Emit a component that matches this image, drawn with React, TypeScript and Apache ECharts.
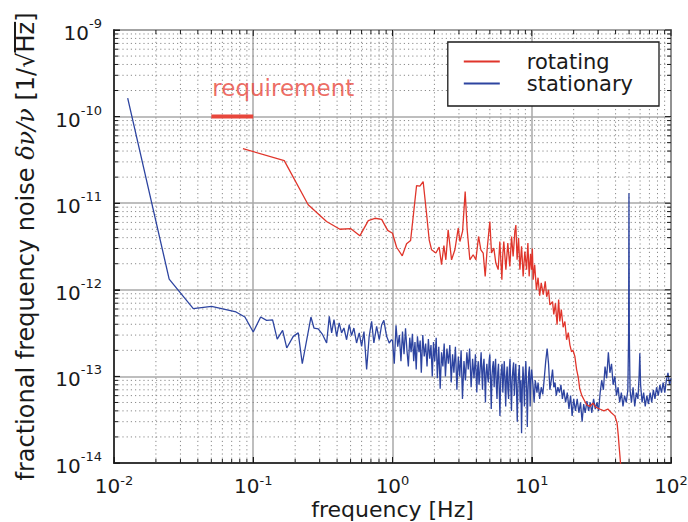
import { useEffect, useRef } from 'react';
import * as echarts from 'echarts';

const FONT = 'DejaVu Sans';
const INK = '#1a1a1a';
const RED = '#e0352b';
const BLUE = '#2d44a0';

const X_MIN = 0.01;
const X_MAX = 100;
const Y_MIN = 1e-14;
const Y_MAX = 1e-9;
const xDecades = [0.01, 0.1, 1, 10, 100];
const yDecades = [1e-14, 1e-13, 1e-12, 1e-11, 1e-10, 1e-9];
const minorMultipliers = [2, 3, 4, 5, 6, 7, 8, 9];

const legendNames = ['rotating', 'stationary'];
const requirementText = 'requirement';

// requirement bar: frequency [Hz], noise
const requirement: [number, number][] = [[0.05, 1e-10], [0.1, 1e-10]];

// stationary (blue): [frequency Hz, fractional noise 1/sqrt(Hz)]
const stationary: [number, number][] = [
  [0.01254, 1.63e-10], [0.0249, 1.33e-12], [0.0371, 6.05e-13], [0.0502, 6.44e-13],
  [0.0752, 5.55e-13], [0.0871, 4.85e-13], [0.1, 3.26e-13],
  [0.113, 4.85e-13], [0.1247, 4.44e-13], [0.1377, 4.5e-13], [0.1486, 2.7e-13], [0.1625, 3.4e-13],
  [0.174, 2.13e-13], [0.1938, 2.9e-13], [0.2104, 3.18e-13], [0.225, 1.4e-13], [0.2596, 4.85e-13],
  [0.273, 3.62e-13], [0.293, 3.53e-13], [0.315, 3.03e-13], [0.3365, 2.43e-13], [0.3516, 4.93e-13],
  [0.3656, 3.18e-13], [0.38, 4.52e-13], [0.397, 2.9e-13], [0.414, 4.14e-13], [0.431, 3.18e-13],
  [0.448, 3.62e-13], [0.468, 2.65e-13], [0.489, 3.95e-13], [0.508, 2.96e-13], [0.528, 3.62e-13],
  [0.552, 2.43e-13], [0.577, 3.18e-13], [0.6, 2.22e-13], [0.624, 3.3e-13], [0.652, 1.2e-13],
  [0.68, 2.9e-13], [0.708, 4.32e-13], [0.735, 2.43e-13], [0.769, 3.79e-13], [0.803, 2.65e-13],
  [0.836, 3.95e-13], [0.867, 4.44e-13], [0.907, 2.9e-13], [0.947, 2.43e-13], [0.984, 2.65e-13],
  [1.0, 2.6e-13], [1.03, 1.4e-13], [1.06, 3.9e-13], [1.09, 2.2e-13], [1.12, 3.0e-13], [1.15, 1.5e-13],
  [1.18, 3.3e-13], [1.21, 1.8e-13], [1.24, 3.6e-13], [1.27, 2.0e-13], [1.3, 1.3e-13], [1.33, 2.8e-13],
  [1.36, 1.9e-13], [1.39, 3.1e-13], [1.42, 1.5e-13], [1.45, 2.5e-13], [1.48, 1.2e-13], [1.51, 2.9e-13],
  [1.55, 1.9e-13], [1.58, 2.6e-13], [1.61, 1.1e-13], [1.65, 3.0e-13], [1.69, 1.7e-13], [1.73, 2.4e-13],
  [1.77, 1.3e-13], [1.81, 2.7e-13], [1.85, 1.6e-13], [1.89, 2.3e-13], [1.93, 1.0e-13], [1.97, 2.5e-13],
  [2.01, 1.5e-13], [2.06, 2.8e-13], [2.1, 9.5e-14], [2.15, 2.2e-13], [2.2, 7.2e-14], [2.25, 1.9e-13],
  [2.3, 1.3e-13], [2.35, 2.4e-13], [2.4, 1.0e-13], [2.46, 2.1e-13], [2.52, 1.4e-13], [2.58, 2.3e-13],
  [2.64, 8.5e-14], [2.7, 1.8e-13], [2.76, 1.1e-13], [2.83, 2.2e-13], [2.9, 7.0e-14], [2.97, 1.7e-13],
  [3.04, 1.0e-13], [3.11, 2.0e-13], [3.18, 5.5e-14], [3.26, 1.5e-13], [3.34, 9.0e-14], [3.42, 1.9e-13],
  [3.5, 1.2e-13], [3.58, 2.1e-13], [3.67, 7.5e-14], [3.76, 1.6e-13], [3.85, 9.5e-14], [3.94, 1.8e-13],
  [4.03, 6.5e-14], [4.08, 1.2e-13], [4.13, 1.5e-13], [4.18, 8e-14], [4.23, 1.0e-13], [4.28, 1.4e-13],
  [4.33, 1.9e-13], [4.38, 1.1e-13], [4.43, 7.0e-14], [4.48, 1.3e-13], [4.54, 1.6e-13], [4.6, 9e-14],
  [4.65, 5.0e-14], [4.7, 1.1e-13], [4.76, 1.4e-13], [4.82, 1.0e-13], [4.88, 8.5e-14], [4.94, 1.5e-13],
  [5.0, 1.8e-13], [5.06, 9e-14], [5.12, 4.2e-14], [5.18, 1.0e-13], [5.24, 1.3e-13], [5.3, 1.5e-13],
  [5.37, 7.5e-14], [5.43, 1.2e-13], [5.5, 1.6e-13], [5.56, 8e-14], [5.63, 5.5e-14], [5.7, 1.1e-13],
  [5.77, 1.4e-13], [5.84, 7e-14], [5.91, 3.5e-14], [5.98, 9e-14], [6.05, 1.2e-13], [6.12, 1.4e-13],
  [6.2, 6.5e-14], [6.27, 1.0e-13], [6.35, 1.5e-13], [6.42, 9e-14], [6.5, 4.5e-14], [6.58, 1.0e-13],
  [6.66, 1.3e-13], [6.74, 7e-14], [6.82, 5.5e-14], [6.9, 1.2e-13], [6.98, 1.6e-13], [7.06, 8e-14],
  [7.15, 4.0e-14], [7.23, 9e-14], [7.32, 1.2e-13], [7.41, 1.45e-13], [7.5, 6.0e-14], [7.59, 1.0e-13],
  [7.68, 1.4e-13], [7.77, 7e-14], [7.87, 3.0e-14], [7.96, 8e-14], [8.06, 1.1e-13], [8.15, 1.35e-13],
  [8.25, 5.0e-14], [8.35, 9e-14], [8.45, 2.2e-14], [8.55, 7e-14], [8.65, 1.3e-13], [8.75, 9e-14],
  [8.86, 4.5e-14], [8.96, 1.0e-13], [9.07, 1.5e-13], [9.18, 8e-14], [9.29, 2.6e-14], [9.4, 7e-14],
  [9.51, 1.1e-13], [9.62, 1.3e-13], [9.74, 4.5e-14], [9.85, 9e-14], [9.97, 1.2e-13],
  [10.2, 8.0e-14], [10.4, 5.0e-14], [10.6, 9.0e-14], [10.9, 6.5e-14], [11.1, 8.5e-14], [11.4, 5.5e-14],
  [11.7, 7.5e-14], [12.0, 6.2e-14], [12.3, 9.5e-14], [12.6, 1.5e-13], [12.9, 2.1e-13], [13.2, 1.4e-13],
  [13.5, 7.0e-14], [13.8, 9.0e-14], [14.1, 1.2e-13], [14.4, 7.5e-14], [14.7, 8.5e-14], [15.0, 6.0e-14],
  [15.4, 7.5e-14], [15.8, 6.5e-14], [16.2, 8.0e-14], [16.6, 5.5e-14], [17.0, 7.0e-14], [17.5, 5.0e-14],
  [18.0, 6.5e-14], [18.5, 4.2e-14], [19.0, 6.0e-14], [19.5, 3.5e-14], [20.0, 5.5e-14], [20.6, 4.0e-14],
  [21.2, 5.5e-14], [21.8, 3.8e-14], [22.4, 5.0e-14], [23.0, 3.0e-14], [23.6, 4.8e-14], [24.2, 3.8e-14],
  [24.9, 5.2e-14], [25.6, 4.0e-14], [26.3, 5.0e-14], [27.0, 3.8e-14], [27.8, 5.5e-14], [28.6, 4.2e-14],
  [29.4, 5.0e-14], [30.2, 4.0e-14], [31.0, 6.5e-14], [31.8, 9.0e-14], [32.7, 7.0e-14], [33.6, 1.3e-13],
  [34.5, 9.5e-14], [35.5, 1.9e-13], [36.4, 1.1e-13], [37.4, 1.4e-13], [38.4, 8.0e-14], [39.5, 1.0e-13],
  [40.6, 6.0e-14], [41.7, 7.5e-14], [42.8, 5.0e-14], [44.0, 6.5e-14], [45.2, 4.5e-14], [46.4, 6.0e-14],
  [47.7, 5.0e-14], [49.0, 7.0e-14], [49.6, 3.0e-13], [49.9, 1.3e-11], [50.2, 3.0e-13], [50.8, 7.0e-14],
  [52.0, 5.0e-14], [53.4, 7.5e-14], [54.9, 4.5e-14], [56.4, 6.5e-14], [57.9, 5.5e-14], [59.0, 1.0e-13],
  [59.7, 1.85e-13], [60.5, 8.0e-14], [62.0, 5.0e-14], [63.6, 6.5e-14], [65.3, 4.5e-14], [67.1, 6.0e-14],
  [68.9, 4.8e-14], [70.8, 6.5e-14], [72.7, 5.0e-14], [74.7, 7.0e-14], [76.7, 5.5e-14], [78.8, 7.5e-14],
  [81.0, 6.0e-14], [83.2, 8.0e-14], [85.5, 6.5e-14], [87.8, 8.5e-14], [90.2, 6.5e-14], [92.6, 9.0e-14],
  [95.1, 1.1e-13], [97.7, 8.0e-14], [100, 9.5e-14],
];

// rotating (red): [frequency Hz, fractional noise 1/sqrt(Hz)]
const rotating: [number, number][] = [
  [0.0843, 4.27e-11], [0.167, 3.1e-11], [0.248, 9.6e-12], [0.336, 6.15e-12], [0.419, 5.0e-12],
  [0.5, 5.1e-12], [0.583, 4.2e-12], [0.67, 6.3e-12], [0.748, 6.7e-12], [0.836, 6.5e-12],
  [0.923, 4.85e-12], [1.0, 4.5e-12], [1.07, 3.1e-12], [1.175, 2.47e-12], [1.262, 3.4e-12],
  [1.349, 3.72e-12], [1.489, 1.6e-11], [1.573, 1.57e-11], [1.66, 1.78e-11], [1.757, 7.5e-12],
  [1.834, 3.78e-12], [1.908, 2.9e-12], [2.05, 2.66e-12], [2.163, 3.12e-12], [2.25, 1.95e-12],
  [2.339, 3.23e-12], [2.416, 2.22e-12], [2.51, 4.93e-12], [2.655, 2.22e-12], [2.806, 2.9e-12],
  [2.965, 5.16e-12], [3.048, 3.61e-12], [3.185, 4.72e-12], [3.326, 1.36e-11], [3.437, 4.93e-12],
  [3.594, 2.22e-12], [3.795, 2.54e-12], [3.97, 2.22e-12], [4.15, 4.13e-12], [4.31, 2.9e-12],
  [4.48, 2.66e-12], [4.63, 1.43e-12], [4.78, 2.9e-12], [5.0, 6.15e-12], [5.14, 2.66e-12],
  [5.34, 3.04e-12], [5.52, 2.04e-12], [5.74, 1.71e-12], [5.9, 3.61e-12], [6.1, 1.31e-12],
  [6.2, 2.6e-12], [6.3, 3.61e-12], [6.52, 1.71e-12], [6.73, 3.47e-12], [6.85, 2.5e-12],
  [6.96, 1.86e-12], [7.16, 4.13e-12], [7.35, 2.43e-12], [7.45, 3.3e-12], [7.56, 4.72e-12],
  [7.69, 5.6e-12], [7.85, 2.22e-12], [8.04, 3.96e-12], [8.13, 2.6e-12], [8.22, 1.71e-12],
  [8.45, 3.17e-12], [8.56, 2.2e-12], [8.67, 1.43e-12], [8.92, 2.77e-12], [9.18, 1.71e-12],
  [9.28, 2.5e-12], [9.38, 3.47e-12], [9.58, 1.43e-12], [9.8, 2.6e-12], [9.97, 1.71e-12],
  [10.1, 3.0e-12], [10.24, 1.31e-12], [10.5, 1.95e-12], [10.8, 1.0e-12], [11.1, 1.38e-12],
  [11.4, 8.55e-13], [11.7, 1.2e-12], [12.1, 8.8e-13], [12.5, 1.25e-12], [12.8, 8.3e-13],
  [13.2, 1.0e-12], [13.5, 6.7e-13], [14.1, 7.3e-13], [14.4, 5.2e-13], [14.8, 7.0e-13],
  [15.2, 3.95e-13], [15.6, 7.7e-13], [15.9, 4.3e-13], [16.3, 5.9e-13], [16.8, 3.7e-13],
  [17.3, 4.3e-13], [17.8, 2.65e-13], [18.3, 3.2e-13], [18.8, 2.3e-13], [19.3, 1.93e-13],
  [19.8, 2.0e-13], [20.4, 1.7e-13], [21.0, 1.2e-13], [21.6, 9.7e-14], [22.1, 7.2e-14],
  [22.9, 6.0e-14], [24.0, 5.2e-14], [24.8, 4.7e-14], [26.1, 4.5e-14], [27.5, 4.9e-14],
  [28.9, 4.4e-14], [30.8, 4.2e-14], [33.0, 4.0e-14], [35.2, 4.2e-14], [37.3, 3.8e-14],
  [39.5, 3.5e-14], [41.0, 2.9e-14], [41.8, 2.1e-14], [42.4, 1.56e-14], [43.4, 1.0e-14],
  [44.0, 7.3e-15],
];

const xMinor = xDecades.slice(0, -1).flatMap((d) => minorMultipliers.map((m) => m * d));
const yMinor = yDecades.slice(0, -1).flatMap((d) => minorMultipliers.map((m) => m * d));

const isDecade = (v: number) => Math.abs(Math.log10(v) - Math.round(Math.log10(v))) < 1e-6;

const powLabel = (v: number) => `{b|10}{e|${Math.round(Math.log10(v))}}`;

const yLabelRich = {
  b: { fontFamily: FONT, fontSize: 20, color: INK, lineHeight: 26, verticalAlign: 'bottom' },
  e: { fontFamily: FONT, fontSize: 13, color: INK, lineHeight: 14, verticalAlign: 'top' },
};

const xLabelRich = {
  b: { fontFamily: FONT, fontSize: 20, color: INK, lineHeight: 22, verticalAlign: 'bottom' },
  e: { fontFamily: FONT, fontSize: 13, color: INK, lineHeight: 12, verticalAlign: 'top' },
};

export default function App() {
  const ref = useRef<HTMLDivElement>(null);

  useEffect(() => {
    if (!ref.current) return;
    const chart = echarts.init(ref.current, null, { renderer: 'svg' });

    const overline = new echarts.graphic.LinearGradient(0, 0, 0, 1, [
      { offset: 0, color: INK },
      { offset: 0.07, color: INK },
      { offset: 0.07, color: 'rgba(0,0,0,0)' },
      { offset: 1, color: 'rgba(0,0,0,0)' },
    ]);

    const tickStyle = { stroke: INK, lineWidth: 1 };
    const dotStyle = { stroke: '#8a8a8a', lineWidth: 1, lineDash: [1.2, 3] };

    const option: any = {
      animation: false,
      backgroundColor: '#ffffff',
      grid: {
        left: 114, right: 17, top: 30, bottom: 59,
        show: true, borderColor: INK, borderWidth: 1.5,
        outerBoundsMode: 'none',
      },
      legend: {
        data: legendNames,
        orient: 'vertical',
        right: 29,
        top: 42,
        backgroundColor: '#ffffff',
        borderColor: INK,
        borderWidth: 1.3,
        padding: [9, 26, 12, 16],
        itemWidth: 36,
        itemHeight: 2,
        itemGap: 1,
        icon: 'rect',
        selectedMode: false,
        textStyle: { fontFamily: FONT, fontSize: 21, color: INK, lineHeight: 21, padding: [0, 0, 0, 22] },
      },
      xAxis: {
        type: 'log', logBase: 10, min: X_MIN, max: X_MAX,
        name: 'frequency [Hz]', nameLocation: 'middle', nameGap: 35, nameMoveOverlap: false,
        nameTextStyle: { fontFamily: FONT, fontSize: 22, color: INK },
        axisLine: { show: true, onZero: false, lineStyle: { color: INK, width: 1.5 } },
        axisTick: { show: true, inside: true, length: 6, lineStyle: { color: INK, width: 1 } },
        axisLabel: { formatter: powLabel, margin: 11, rich: xLabelRich },
        splitLine: { show: true, lineStyle: { color: '#a9a9a9', width: 1.5 } },
        minorTick: { show: false },
        minorSplitLine: { show: false },
      },
      yAxis: {
        type: 'log', logBase: 10, min: Y_MIN, max: Y_MAX,
        name: '{n|fractional frequency noise }{i|δν/ν}{n| [1/√}{o|Hz}{n|]}',
        nameLocation: 'middle', nameGap: 76, nameRotate: 90, nameMoveOverlap: false,
        nameTextStyle: {
          rich: {
            n: { fontFamily: FONT, fontSize: 24, color: INK },
            i: { fontFamily: 'DejaVu Serif', fontStyle: 'italic', fontSize: 24, color: INK },
            o: { fontFamily: FONT, fontSize: 24, color: INK, backgroundColor: overline },
          },
        },
        axisLine: { show: true, onZero: false, lineStyle: { color: INK, width: 1.5 } },
        axisTick: { show: true, inside: true, length: 6, lineStyle: { color: INK, width: 1 } },
        axisLabel: { formatter: powLabel, margin: 12, rich: yLabelRich },
        splitLine: { show: true, lineStyle: { color: '#a9a9a9', width: 1.5 } },
        minorTick: { show: false },
        minorSplitLine: { show: false },
      },
      series: [
        {
          name: 'minorGrid', type: 'custom', silent: true, z: 1,
          data: [...xMinor.map((v) => [v, Y_MIN, 0]), ...yMinor.map((v) => [X_MIN, v, 1])],
          renderItem: (_p: any, api: any) => {
            const x = api.value(0);
            const y = api.value(1);
            const horizontal = api.value(2) === 1;
            const a = horizontal ? api.coord([X_MIN, y]) : api.coord([x, Y_MIN]);
            const b = horizontal ? api.coord([X_MAX, y]) : api.coord([x, Y_MAX]);
            return { type: 'line', shape: { x1: a[0], y1: a[1], x2: b[0], y2: b[1] }, style: dotStyle };
          },
        },
        {
          name: 'stationary', type: 'line', data: stationary, symbol: 'none', z: 3,
          lineStyle: { color: BLUE, width: 1.3 }, itemStyle: { color: BLUE }, clip: true,
        },
        {
          name: 'rotating', type: 'line', data: rotating, symbol: 'none', z: 4,
          lineStyle: { color: RED, width: 1.3 }, itemStyle: { color: RED }, clip: true,
        },
        {
          name: 'requirement', type: 'line', data: requirement, symbol: 'none', z: 4,
          lineStyle: { color: '#e8473c', width: 4 },
        },
        {
          name: 'requirementLabel', type: 'scatter', data: [requirement[0]], symbolSize: 0, z: 4,
          label: {
            show: true, formatter: requirementText, position: [1, -40],
            fontFamily: FONT, fontSize: 23, color: '#e8473c',
          },
        },
        {
          name: 'xTicks', type: 'custom', silent: true, z: 6,
          data: [...xDecades, ...xMinor].map((v) => [v, Y_MIN]),
          renderItem: (_p: any, api: any) => {
            const v = api.value(0);
            const len = isDecade(v) ? 6 : 4;
            const b = api.coord([v, Y_MIN]);
            const t = api.coord([v, Y_MAX]);
            return {
              type: 'group',
              children: [
                { type: 'line', shape: { x1: b[0], y1: b[1], x2: b[0], y2: b[1] - len }, style: tickStyle },
                { type: 'line', shape: { x1: t[0], y1: t[1], x2: t[0], y2: t[1] + len }, style: tickStyle },
              ],
            };
          },
        },
        {
          name: 'yTicks', type: 'custom', silent: true, z: 6,
          data: [...yDecades, ...yMinor].map((v) => [X_MIN, v]),
          renderItem: (_p: any, api: any) => {
            const v = api.value(1);
            const len = isDecade(v) ? 6 : 4;
            const l = api.coord([X_MIN, v]);
            const r = api.coord([X_MAX, v]);
            return {
              type: 'group',
              children: [
                { type: 'line', shape: { x1: l[0], y1: l[1], x2: l[0] + len, y2: l[1] }, style: tickStyle },
                { type: 'line', shape: { x1: r[0], y1: r[1], x2: r[0] - len, y2: r[1] }, style: tickStyle },
              ],
            };
          },
        },
      ],
    };

    chart.setOption(option);
    return () => chart.dispose();
  }, []);

  return (
    <div
      ref={ref}
      style={{ position: 'fixed', left: 0, top: 0, width: 688, height: 522, background: '#fff' }}
    />
  );
}
